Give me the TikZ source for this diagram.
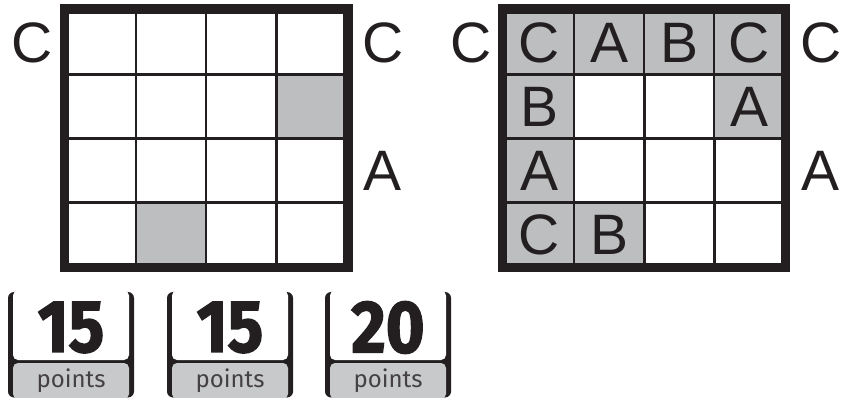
\documentclass[tikz,border=0pt]{standalone}
\usepackage{fontspec}
\usepackage{graphicx}
\usetikzlibrary{fit}
\setmainfont{Liberation Sans}
\newfontfamily\numfont{Fira Sans}
\newfontfamily\heavyfont{Fira Sans}[FakeBold=2]
\definecolor{ink}{HTML}{231F20}
\definecolor{cellgray}{HTML}{BCBEC0}
\definecolor{ptgray}{HTML}{C8C9CB}
\begin{document}
\begin{tikzpicture}[x=1pt,y=-1pt,
  cell/.style={draw=ink, line width=2.5pt, minimum width=70.25pt, minimum height=64pt,
    inner sep=0pt, font=\fontsize{57}{57}\selectfont, text=ink},
  shaded/.style={cell, fill=cellgray},
  clue/.style={inner sep=0pt, font=\fontsize{57}{57}\selectfont, text=ink},
  gridframe/.style={draw=ink, line width=9.5pt},
  numtext/.style={inner sep=0pt, text=ink, font=\heavyfont\bfseries\fontsize{74}{74}\selectfont},
  pttext/.style={inner sep=0pt, text=ink!85, font=\numfont\fontsize{24}{24}\selectfont}]
\useasboundingbox (0,0) rectangle (852,398);

% ---------- left grid ----------
\foreach \r in {1,...,4}{
  \foreach \c in {1,...,4}{
    \node[cell] (L\r\c) at ({65.5+70.25*(\c-0.5)},{10.5+64*(\r-0.5)}) {};
  }
}
\node[shaded] (L24s) at (L24) {};
\node[shaded] (L42s) at (L42) {};
\node[gridframe, inner sep=0pt, fit=(L11)(L44)] (Lframe) {};
\node[clue] (LcL) at (32,42.5) {C};
\node[clue] (LcR) at (383,42.5) {C};
\node[clue] (LaR) at (383,170.5) {A};

% ---------- right grid ----------
\foreach \r in {1,...,4}{
  \foreach \c in {1,...,4}{
    \node[cell] (R\r\c) at ({504+70.1*(\c-0.5)},{10.5+64*(\r-0.5)}) {};
  }
}
\node[shaded] (R11s) at (R11) {C};
\node[shaded] (R12s) at (R12) {A};
\node[shaded] (R13s) at (R13) {B};
\node[shaded] (R14s) at (R14) {C};
\node[shaded] (R21s) at (R21) {B};
\node[shaded] (R24s) at (R24) {A};
\node[shaded] (R31s) at (R31) {A};
\node[shaded] (R41s) at (R41) {C};
\node[shaded] (R42s) at (R42) {B};
\node[gridframe, inner sep=0pt, fit=(R11)(R44)] (Rframe) {};
\node[clue] (RcL) at (471,42.5) {C};
\node[clue] (RcR) at (821,42.5) {C};
\node[clue] (RaR) at (821,170.5) {A};

% ---------- points boxes ----------
\foreach \dx/\num/\nm in {0/15/1, 159/15/2, 317/20/3}{
  \begin{scope}[xshift=\dx pt]
    \fill[ink, rounded corners=6pt] (8,292) rectangle (134,397.5);
    \fill[white, rounded corners=5pt] (13,290.5) rectangle (129,360);
    \fill[ptgray, rounded corners=5pt] (13,363) rectangle (129,399);
    \node[numtext] (num\nm) at (71,327.5) {\scalebox{0.9}[1]{\num}};
    \node[pttext] (pts\nm) at (71,381) {points};
  \end{scope}
}
\end{tikzpicture}
\end{document}
